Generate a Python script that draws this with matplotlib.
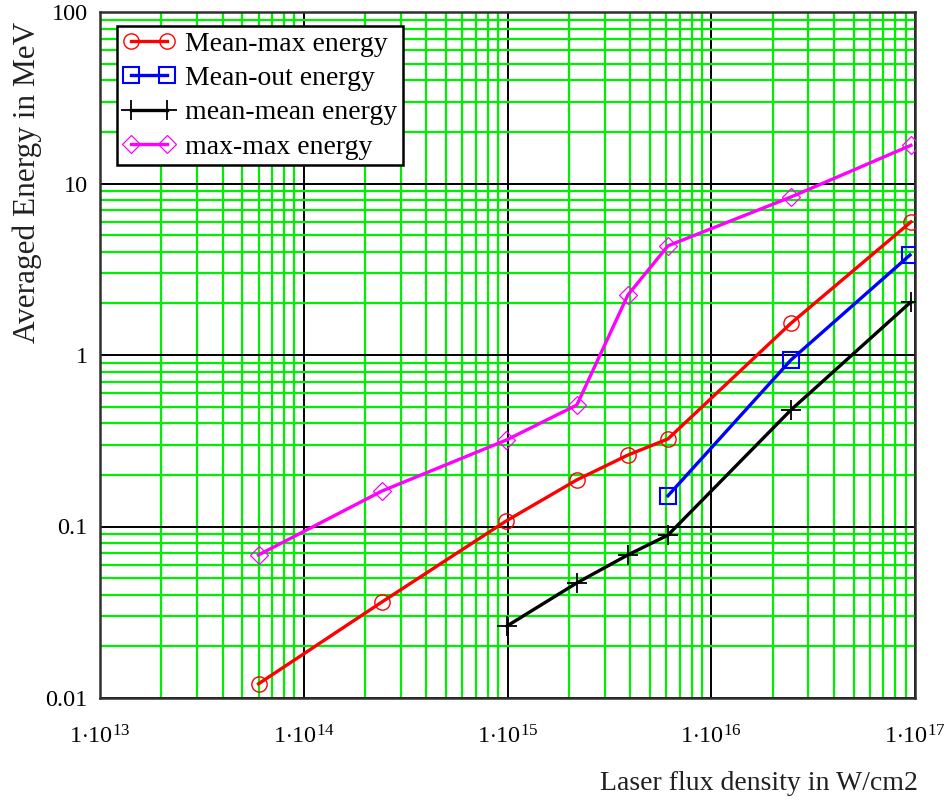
import matplotlib.pyplot as plt
import matplotlib.ticker as mticker
import numpy as np

# Data (log-log)
flux_all = [6.0e13, 2.42e14, 9.85e14, 2.19e15, 3.9e15, 6.13e15, 2.46e16, 9.55e16]
flux_out = [6.13e15, 2.46e16, 9.45e16]
flux_mm = [9.95e14, 2.19e15, 3.9e15, 6.13e15, 2.46e16, 9.55e16]

mean_max = [0.0121, 0.0363, 0.1077, 0.187, 0.261, 0.324, 1.53, 5.97]
mean_out = [0.151, 0.935, 3.83]
mean_mean = [0.0263, 0.0469, 0.0683, 0.0891, 0.478, 2.04]
max_max = [0.0683, 0.161, 0.319, 0.511, 2.24, 4.33, 8.34, 16.7]

x_ticks = [1e13, 1e14, 1e15, 1e16, 1e17]
x_ticklabels = [r'$1{\cdot}10^{13}$', r'$1{\cdot}10^{14}$', r'$1{\cdot}10^{15}$',
                r'$1{\cdot}10^{16}$', r'$1{\cdot}10^{17}$']
y_ticks = [0.01, 0.1, 1, 10, 100]
y_ticklabels = ['0.01', '0.1', '1', '10', '100']

plt.rcParams['font.family'] = ['Liberation Serif', 'DejaVu Serif']
plt.rcParams['mathtext.fontset'] = 'custom'
plt.rcParams['mathtext.rm'] = 'Liberation Serif'
plt.rcParams['mathtext.it'] = 'Liberation Serif:italic'

fig = plt.figure(figsize=(9.51, 8.01), dpi=100)
ax = fig.add_axes([100 / 951, 1 - 698 / 801, 815 / 951, 686 / 801])

ax.set_xscale('log')
ax.set_yscale('log')
ax.set_xlim(1e13, 1e17)
ax.set_ylim(0.01, 100)

ax.xaxis.set_minor_locator(mticker.LogLocator(base=10, subs=np.arange(2, 10)))
ax.yaxis.set_minor_locator(mticker.LogLocator(base=10, subs=np.arange(2, 10)))
ax.xaxis.set_minor_formatter(mticker.NullFormatter())
ax.yaxis.set_minor_formatter(mticker.NullFormatter())
ax.grid(which='minor', color='#00ee00', linewidth=1.6, zorder=0)
ax.grid(which='major', color='black', linewidth=1.4, zorder=0.5)
ax.set_axisbelow(True)

ax.set_xticks(x_ticks)
ax.set_xticklabels(x_ticklabels)
ax.set_yticks(y_ticks)
ax.set_yticklabels(y_ticklabels)
ax.tick_params(which='both', length=0)
ax.tick_params(axis='x', labelsize=17.5, pad=20)
ax.tick_params(axis='y', labelsize=17.5, pad=9)

for s in ax.spines.values():
    s.set_linewidth(1.8)
    s.set_color('#303030')

lw = 2.4
ax.plot(flux_all, mean_max, '-o', color='red', lw=lw, ms=11, mfc='none',
        mew=1.0, label='Mean-max energy', zorder=3)
ax.plot(flux_out, mean_out, '-s', color='blue', lw=lw, ms=12, mfc='none',
        mew=1.5, label='Mean-out energy', zorder=3)
ax.plot(flux_mm, mean_mean, '-+', color='black', lw=lw, ms=14, mew=1.3,
        label='mean-mean energy', zorder=3)
ax.plot(flux_all, max_max, '-D', color='magenta', lw=lw, ms=9.5, mfc='none',
        mew=0.9, label='max-max energy', zorder=3)

leg = ax.legend(loc='upper left', bbox_to_anchor=(0.021, 0.98), borderaxespad=0,
                fontsize=20, numpoints=2, handlelength=1.9, handletextpad=0.35,
                labelspacing=0.32, borderpad=0.2, fancybox=False, framealpha=1,
                edgecolor='black')
leg.get_frame().set_linewidth(1.8)
leg.set_zorder(5)

fig.text(27 / 951, 1 - 182 / 801, 'Averaged Energy in MeV', rotation=90,
         ha='center', va='center', fontsize=22.5, color='#202020')
fig.text(918 / 951, 1 - 783 / 801, 'Laser flux density in W/cm2',
         ha='right', va='center', fontsize=20, color='#202020')

fig.savefig('out.png', dpi=100)
